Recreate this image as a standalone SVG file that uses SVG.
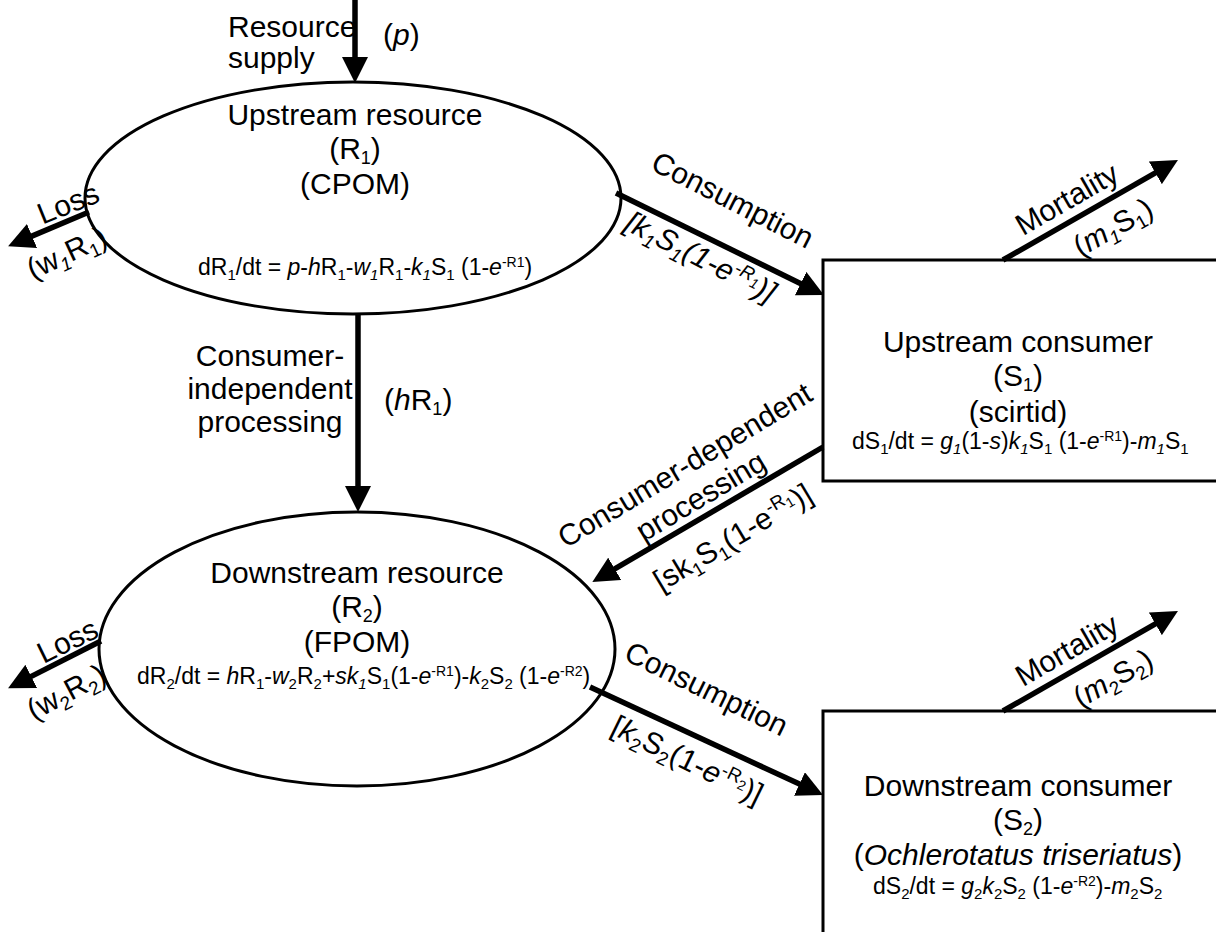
<svg xmlns="http://www.w3.org/2000/svg" width="1216" height="932" viewBox="0 0 1216 932">
<style>
text{font-family:"Liberation Sans",Arial,sans-serif;fill:#000}
.lb{font-size:30px}
.eq{font-size:23px}
.it{font-style:italic}
.node{fill:#fff;stroke:#000;stroke-width:3}
.arr{stroke:#000;stroke-width:5.5;fill:none;marker-end:url(#ah)}
</style>
<defs>
<marker id="ah" markerUnits="userSpaceOnUse" viewBox="0 0 26 26" refX="6" refY="13" markerWidth="26" markerHeight="26" orient="auto">
<path d="M0,0 L26,13 L0,26 z" fill="#000"/>
</marker>
</defs>
<rect width="1216" height="932" fill="#fff"/>

<g id="node-R1">
<ellipse class="node" cx="353" cy="198" rx="268" ry="116"/>
<text class="lb" x="355" y="125" text-anchor="middle">Upstream resource</text>
<text class="lb" x="355" y="159" text-anchor="middle">(R<tspan font-size="18" dy="5">1</tspan><tspan dy="-5">)</tspan></text>
<text class="lb" x="355" y="194" text-anchor="middle">(CPOM)</text>
<text class="eq" x="198" y="275">dR<tspan font-size="15" dy="5">1</tspan><tspan dy="-5">/dt = </tspan><tspan class="it">p</tspan>-<tspan class="it">h</tspan>R<tspan font-size="15" dy="5">1</tspan><tspan dy="-5">-</tspan><tspan class="it">w</tspan><tspan class="it" font-size="15" dy="5">1</tspan><tspan dy="-5">R</tspan><tspan font-size="15" dy="5">1</tspan><tspan dy="-5">-</tspan><tspan class="it">k</tspan><tspan class="it" font-size="15" dy="5">1</tspan><tspan dy="-5">S</tspan><tspan font-size="15" dy="5">1</tspan><tspan dy="-5"> (1-</tspan><tspan class="it">e</tspan><tspan font-size="14" dy="-8">-R1</tspan><tspan dy="8">)</tspan></text>
</g>

<g id="node-R2">
<ellipse class="node" cx="357" cy="649" rx="258" ry="137"/>
<text class="lb" x="357" y="583" text-anchor="middle">Downstream resource</text>
<text class="lb" x="357" y="617" text-anchor="middle">(R<tspan font-size="18" dy="5">2</tspan><tspan dy="-5">)</tspan></text>
<text class="lb" x="357" y="652" text-anchor="middle">(FPOM)</text>
<text class="eq" x="137" y="684">dR<tspan font-size="15" dy="5">2</tspan><tspan dy="-5">/dt = </tspan><tspan class="it">h</tspan>R<tspan font-size="15" dy="5">1</tspan><tspan dy="-5">-</tspan><tspan class="it">w</tspan><tspan font-size="15" dy="5">2</tspan><tspan dy="-5">R</tspan><tspan font-size="15" dy="5">2</tspan><tspan dy="-5">+</tspan><tspan class="it">sk</tspan><tspan class="it" font-size="15" dy="5">1</tspan><tspan dy="-5">S</tspan><tspan font-size="15" dy="5">1</tspan><tspan dy="-5">(1-</tspan><tspan class="it">e</tspan><tspan font-size="14" dy="-8">-R1</tspan><tspan dy="8">)-</tspan><tspan class="it">k</tspan><tspan font-size="15" dy="5">2</tspan><tspan dy="-5">S</tspan><tspan font-size="15" dy="5">2</tspan><tspan dy="-5"> (1-</tspan><tspan class="it">e</tspan><tspan font-size="14" dy="-8">-R2</tspan><tspan dy="8">)</tspan></text>
</g>

<g id="node-S1">
<rect class="node" x="823" y="260" width="420" height="221"/>
<text class="lb" x="1018" y="352" text-anchor="middle">Upstream consumer</text>
<text class="lb" x="1018" y="386" text-anchor="middle">(S<tspan font-size="18" dy="5">1</tspan><tspan dy="-5">)</tspan></text>
<text class="lb" x="1018" y="422" text-anchor="middle">(scirtid)</text>
<text class="eq" x="852" y="449">dS<tspan font-size="15" dy="5">1</tspan><tspan dy="-5">/dt = </tspan><tspan class="it">g</tspan><tspan class="it" font-size="15" dy="5">1</tspan><tspan dy="-5">(1-</tspan><tspan class="it">s</tspan>)<tspan class="it">k</tspan><tspan class="it" font-size="15" dy="5">1</tspan><tspan dy="-5">S</tspan><tspan font-size="15" dy="5">1</tspan><tspan dy="-5"> (1-</tspan><tspan class="it">e</tspan><tspan font-size="14" dy="-8">-R1</tspan><tspan dy="8">)-</tspan><tspan class="it">m</tspan><tspan class="it" font-size="15" dy="5">1</tspan><tspan dy="-5">S</tspan><tspan font-size="15" dy="5">1</tspan></text>
</g>

<g id="node-S2">
<rect class="node" x="823" y="711" width="420" height="240"/>
<text class="lb" x="1018" y="796" text-anchor="middle">Downstream consumer</text>
<text class="lb" x="1018" y="830" text-anchor="middle">(S<tspan font-size="18" dy="5">2</tspan><tspan dy="-5">)</tspan></text>
<text class="lb" x="1018" y="865" text-anchor="middle">(<tspan class="it">Ochlerotatus triseriatus</tspan>)</text>
<text class="eq" x="873" y="894">dS<tspan font-size="15" dy="5">2</tspan><tspan dy="-5">/dt = </tspan><tspan class="it">g</tspan><tspan font-size="15" dy="5">2</tspan><tspan class="it" dy="-5">k</tspan><tspan font-size="15" dy="5">2</tspan><tspan dy="-5">S</tspan><tspan font-size="15" dy="5">2</tspan><tspan dy="-5"> (1-</tspan><tspan class="it">e</tspan><tspan font-size="14" dy="-8">-R2</tspan><tspan dy="8">)-</tspan><tspan class="it">m</tspan><tspan font-size="15" dy="5">2</tspan><tspan dy="-5">S</tspan><tspan font-size="15" dy="5">2</tspan></text>
</g>

<g id="connectors">
<line class="arr" x1="355" y1="0" x2="355" y2="63"/>
<line class="arr" x1="358" y1="314" x2="358" y2="492"/>
<line class="arr" x1="89" y1="212" x2="26.5" y2="238.4"/>
<line class="arr" x1="616" y1="193" x2="806" y2="286.2"/>
<line class="arr" x1="1003" y1="260" x2="1160.6" y2="169.9"/>
<line class="arr" x1="823" y1="447" x2="609.6" y2="571.9"/>
<line class="arr" x1="101" y1="641" x2="25.9" y2="679.1"/>
<line class="arr" x1="590" y1="687" x2="804.9" y2="786.6"/>
<line class="arr" x1="1003" y1="711" x2="1160.6" y2="620.9"/>
</g>

<g id="labels">
<text class="lb" x="228" y="37">Resource</text>
<text class="lb" x="228" y="68">supply</text>
<text class="lb" x="383" y="45">(<tspan class="it">p</tspan>)</text>

<text class="lb" x="270" y="366" text-anchor="middle">Consumer-</text>
<text class="lb" x="270" y="399" text-anchor="middle">independent</text>
<text class="lb" x="270" y="432" text-anchor="middle">processing</text>
<text class="lb" x="384" y="410">(<tspan class="it">h</tspan>R<tspan font-size="18" dy="5">1</tspan><tspan dy="-5">)</tspan></text>

<text class="lb" text-anchor="middle" transform="translate(72,213) rotate(-22)">Loss</text>
<text class="lb" text-anchor="middle" transform="translate(71,262) rotate(-25)">(w<tspan class="it" font-size="19" dy="6">1</tspan><tspan dy="-6">R</tspan><tspan font-size="19" dy="6">1</tspan><tspan dy="-6">)</tspan></text>

<text class="lb" text-anchor="middle" transform="translate(72,650) rotate(-26)">Loss</text>
<text class="lb" text-anchor="middle" transform="translate(71,701) rotate(-28)">(w<tspan font-size="19" dy="6">2</tspan><tspan dy="-6">R</tspan><tspan font-size="19" dy="6">2</tspan><tspan dy="-6">)</tspan></text>

<text class="lb" text-anchor="middle" transform="translate(728,209) rotate(27)">Consumption</text>
<text class="lb it" text-anchor="middle" transform="translate(696,266) rotate(27)">[k<tspan font-size="19" dy="6">1</tspan><tspan dy="-6">S</tspan><tspan font-size="19" dy="6">1</tspan><tspan dy="-6">(1-e</tspan><tspan font-size="19" dy="-11">-R</tspan><tspan font-size="14" dy="5">1</tspan><tspan dy="6">)]</tspan></text>

<text class="lb" text-anchor="middle" transform="translate(702,698) rotate(26)">Consumption</text>
<text class="lb" text-anchor="middle" transform="translate(683,769) rotate(26)">[<tspan class="it">k</tspan><tspan font-size="19" dy="6">2</tspan><tspan dy="-6">S</tspan><tspan font-size="19" dy="6">2</tspan><tspan dy="-6">(1-</tspan><tspan class="it">e</tspan><tspan font-size="19" dy="-11">-R</tspan><tspan font-size="14" dy="5">2</tspan><tspan dy="6">)]</tspan></text>

<text class="lb" text-anchor="middle" transform="translate(1072,208) rotate(-30)">Mortality</text>
<text class="lb" text-anchor="middle" transform="translate(1118,236) rotate(-30)">(<tspan class="it">m</tspan><tspan class="it" font-size="19" dy="6">1</tspan><tspan dy="-6">S</tspan><tspan font-size="19" dy="6">1</tspan><tspan dy="-6">)</tspan></text>

<text class="lb" text-anchor="middle" transform="translate(1072,659) rotate(-30)">Mortality</text>
<text class="lb" text-anchor="middle" transform="translate(1118,687) rotate(-30)">(<tspan class="it">m</tspan><tspan font-size="19" dy="6">2</tspan><tspan dy="-6">S</tspan><tspan font-size="19" dy="6">2</tspan><tspan dy="-6">)</tspan></text>

<text class="lb" text-anchor="middle" transform="translate(690,474) rotate(-31)">Consumer-dependent</text>
<text class="lb" text-anchor="middle" transform="translate(706,505) rotate(-31)">processing</text>
<text class="lb" text-anchor="middle" transform="translate(738,546) rotate(-31)">[sk<tspan font-size="19" dy="6">1</tspan><tspan dy="-6">S</tspan><tspan font-size="19" dy="6">1</tspan><tspan dy="-6">(1-e</tspan><tspan font-size="19" dy="-11">-R</tspan><tspan font-size="14" dy="5">1</tspan><tspan dy="6">)]</tspan></text>
</g>
</svg>
